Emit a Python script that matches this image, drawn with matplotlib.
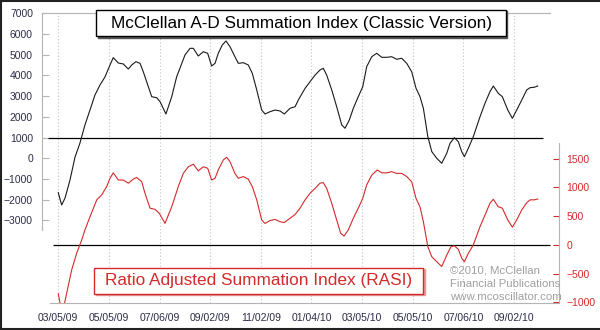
"""McClellan A-D Summation Index (classic) vs RASI, 03/2009 - 09/2010.

Two series on twin y axes over a shared trading-day axis; values read by eye.
"""
import matplotlib
matplotlib.use("Agg")
import matplotlib.pyplot as plt
from matplotlib.patches import Rectangle

plt.rcParams["font.family"] = ["Liberation Sans", "DejaVu Sans"]

# x axis: trading days counted from 03/05/09, a label every 42 days
TICK_DAYS = [0, 42, 84, 126, 168, 210, 252, 294, 336, 378]
TICK_LABELS = ["03/05/09", "05/05/09", "07/06/09", "09/02/09", "11/02/09",
               "01/04/10", "03/05/10", "05/05/10", "07/06/10", "09/02/10"]

# classic summation index (left axis)
SUM_DAYS = [0, 2.8, 5.6, 9.7, 13.9, 18.0, 22.1, 26.3, 30.4, 34.6,
            38.7, 42.9, 45.6, 49.8, 53.9, 58.1, 60.9, 64.4, 67.8, 70.5,
            74.7, 77.5, 81.6, 84.4, 89.3, 94.1, 98.2, 101.0, 105.1, 109.3,
            112.0, 116.1, 120.3, 123.9, 127.2, 130.0, 132.7, 136.0, 139.1, 142.4,
            146.5, 149.3, 153.5, 157.6, 160.9, 164.6, 168.7, 171.5, 175.6, 179.8,
            183.9, 187.5, 192.2, 196.4, 199.1, 204.7, 208.8, 213.0, 217.1, 219.8,
            222.6, 226.8, 230.9, 235.1, 237.8, 241.4, 244.7, 248.8, 252.5, 255.8,
            260.0, 264.1, 268.3, 272.4, 276.5, 280.7, 284.8, 289.0, 293.1, 296.7,
            300.0, 302.8, 306.5, 309.8, 313.9, 318.0, 322.2, 324.9, 328.5, 331.8,
            334.6, 336.8, 340.1, 344.2, 349.8, 353.9, 358.0, 360.8, 364.9, 368.3,
            372.8, 376.6, 380.2, 384.4, 388.5, 391.3, 394.8, 397.6]
SUM_VALUES = [-1660, -2255, -1920, -1050, 60, 740, 1610, 2330, 3055, 3540,
              3925, 4505, 4860, 4600, 4555, 4310, 4505, 4665, 4585, 4180,
              3455, 2975, 2925, 2735, 2140, 2975, 3940, 4360, 4990, 5310,
              5310, 4940, 5145, 5070, 4455, 4585, 5070, 5470, 5665, 5390,
              4905, 4585, 4615, 4505, 4105, 3300, 2330, 2140, 2250, 2330,
              2285, 2140, 2415, 2490, 2815, 3380, 3700, 4020, 4265, 4345,
              4020, 3300, 2490, 1610, 1450, 1850, 2415, 2975, 3455, 4425,
              4905, 5070, 4875, 4875, 4905, 4780, 4830, 4585, 4180, 3380,
              2975, 2415, 1045, 320, 0, -240, 240, 725, 995, 800,
              320, 80, 485, 1045, 2010, 2655, 3215, 3490, 3140, 2975,
              2330, 1930, 2330, 2815, 3300, 3410, 3430, 3490]

# ratio adjusted summation index (right axis)
RASI_DAYS = [0, 2.5, 4.5, 7.0, 11.1, 15.3, 19.4, 22.1, 26.3, 31.9,
             36.0, 40.1, 42.9, 45.6, 49.8, 53.9, 58.1, 62.2, 65.0, 69.2,
             71.9, 76.1, 80.2, 83.8, 88.5, 94.1, 99.5, 103.7, 107.8, 112.0,
             116.1, 120.3, 123.9, 127.2, 130.0, 132.7, 136.9, 139.7, 142.4, 146.5,
             149.3, 153.5, 157.6, 160.9, 164.6, 168.7, 171.5, 175.6, 179.8, 183.9,
             187.5, 192.2, 196.4, 200.5, 204.7, 208.8, 213.0, 217.1, 219.8, 222.6,
             226.8, 230.9, 234.2, 237.0, 240.5, 244.7, 248.8, 252.5, 255.8, 260.0,
             264.6, 268.3, 272.4, 276.5, 280.7, 284.8, 289.0, 293.1, 296.7, 300.0,
             302.8, 306.5, 309.8, 313.9, 318.0, 322.2, 325.7, 328.5, 331.8, 334.6,
             336.8, 340.1, 344.2, 349.8, 353.9, 358.0, 360.8, 364.9, 368.3, 372.8,
             376.6, 380.2, 384.4, 388.5, 391.3, 394.8, 397.6]
RASI_VALUES = [-850, -1120, -1080, -835, -435, -140, 85, 260, 490, 785,
               870, 1015, 1160, 1255, 1130, 1130, 1075, 1145, 1175, 1100,
               900, 640, 620, 550, 375, 665, 1015, 1245, 1360, 1405,
               1290, 1360, 1335, 1130, 1160, 1305, 1480, 1525, 1450, 1245,
               1160, 1190, 1145, 1015, 785, 435, 375, 425, 445, 405,
               390, 465, 530, 640, 785, 900, 985, 1075, 1085, 985,
               725, 435, 205, 155, 260, 465, 640, 810, 1045, 1215,
               1305, 1255, 1255, 1275, 1245, 1245, 1190, 1100, 810, 665,
               405, -30, -205, -290, -375, -175, -30, -15, -75, -230,
               -290, -145, 0, 320, 520, 725, 795, 665, 640, 435,
               310, 435, 610, 735, 785, 785, 800]

LEFT_TICKS = [-3000, -2000, -1000, 0, 1000, 2000, 3000, 4000, 5000, 6000, 7000]
RIGHT_TICKS = [-1000, -500, 0, 500, 1000, 1500]

RED = "#d42a2a"
LABEL = "#2c2c48"
FRAME = "#b4b4b4"


def add_box(fig, x, y, w, h, edge, shadow):
    """Framed white label box with a small drop shadow (figure coords)."""
    dx, dy = 1.5 / 600, 1.5 / 330
    fig.add_artist(Rectangle((x + dx, y - dy), w, h, transform=fig.transFigure,
                             facecolor=shadow, edgecolor=shadow, lw=1, zorder=5))
    fig.add_artist(Rectangle((x, y), w, h, transform=fig.transFigure,
                             facecolor="white", edgecolor=edge, lw=1, zorder=6))


fig = plt.figure(figsize=(6.0, 3.3), dpi=100)
ax = fig.add_axes([0.07, 0.0818, 0.8617, 0.8803])
ax2 = ax.twinx()

ax.set_xlim(-13.5, 415.3)
ax.set_ylim(-6987, 7039)
ax2.set_ylim(-1009, 4043)

for d in TICK_DAYS:
    ax.axvline(d, color="#c4c4c4", lw=0.8, ls=(0, (1, 2)), zorder=0)

ax.hlines(1000, -8.5, 402, color="black", lw=0.9)
ax2.hlines(0, -4.4, 407.8, color="black", lw=0.9)

ax.plot(SUM_DAYS, SUM_VALUES, color="#1a1a1a", lw=0.8)
ax2.plot(RASI_DAYS, RASI_VALUES, color=RED, lw=0.8)

ax.set_xticks(TICK_DAYS)
ax.set_xticklabels(TICK_LABELS)
ax.set_yticks(LEFT_TICKS)
ax2.set_yticks(RIGHT_TICKS)

ax.tick_params(axis="x", length=0, pad=7, labelsize=7.5, labelcolor=LABEL)
ax.tick_params(axis="y", direction="in", length=5, color=FRAME, pad=6.5,
               labelsize=7.5, labelcolor=LABEL)
ax2.tick_params(axis="y", direction="in", length=4.3, color=RED, pad=5.5,
                labelsize=7.5, labelcolor=RED)

ax.spines["right"].set_visible(False)
for name in ("left", "bottom", "top"):
    ax.spines[name].set_color(FRAME)
    ax.spines[name].set_linewidth(0.8)
ax.spines["left"].set_bounds(-3460, 7039)
ax.spines["bottom"].set_bounds(-6.9, 415.3)
ax.spines["top"].set_bounds(-13.5, 407.7)
for name in ("left", "bottom", "top"):
    ax2.spines[name].set_visible(False)
ax2.spines["right"].set_color(FRAME)
ax2.spines["right"].set_linewidth(0.8)
ax2.spines["right"].set_bounds(-1009, 1775)

add_box(fig, 0.16, 0.8909, 0.6833, 0.0788, "black", "#555555")
fig.text(0.5017, 0.930, "McClellan A-D Summation Index (Classic Version)",
         ha="center", va="center", fontsize=12.3, color="black", zorder=7)

add_box(fig, 0.1567, 0.1091, 0.5483, 0.0788, RED, "#e89a9a")
fig.text(0.4308, 0.1485, "Ratio Adjusted Summation Index (RASI)",
         ha="center", va="center", fontsize=12.4, color=RED, zorder=7)

fig.text(0.75, 0.196, "\u00a92010, McClellan\nFinancial Publications\nwww.mcoscillator.com",
         ha="left", va="top", fontsize=8.2, color="#a0a0a0", linespacing=1.42)

# dark frame round the picture (top, left, bottom)
for xs, ys in (([0, 1], [0.998, 0.998]), ([0.001, 0.001], [0, 1]), ([0, 1], [0.003, 0.003])):
    fig.add_artist(plt.Line2D(xs, ys, transform=fig.transFigure, color="#222222", lw=1.5))

fig.savefig("out.png", dpi=100)
